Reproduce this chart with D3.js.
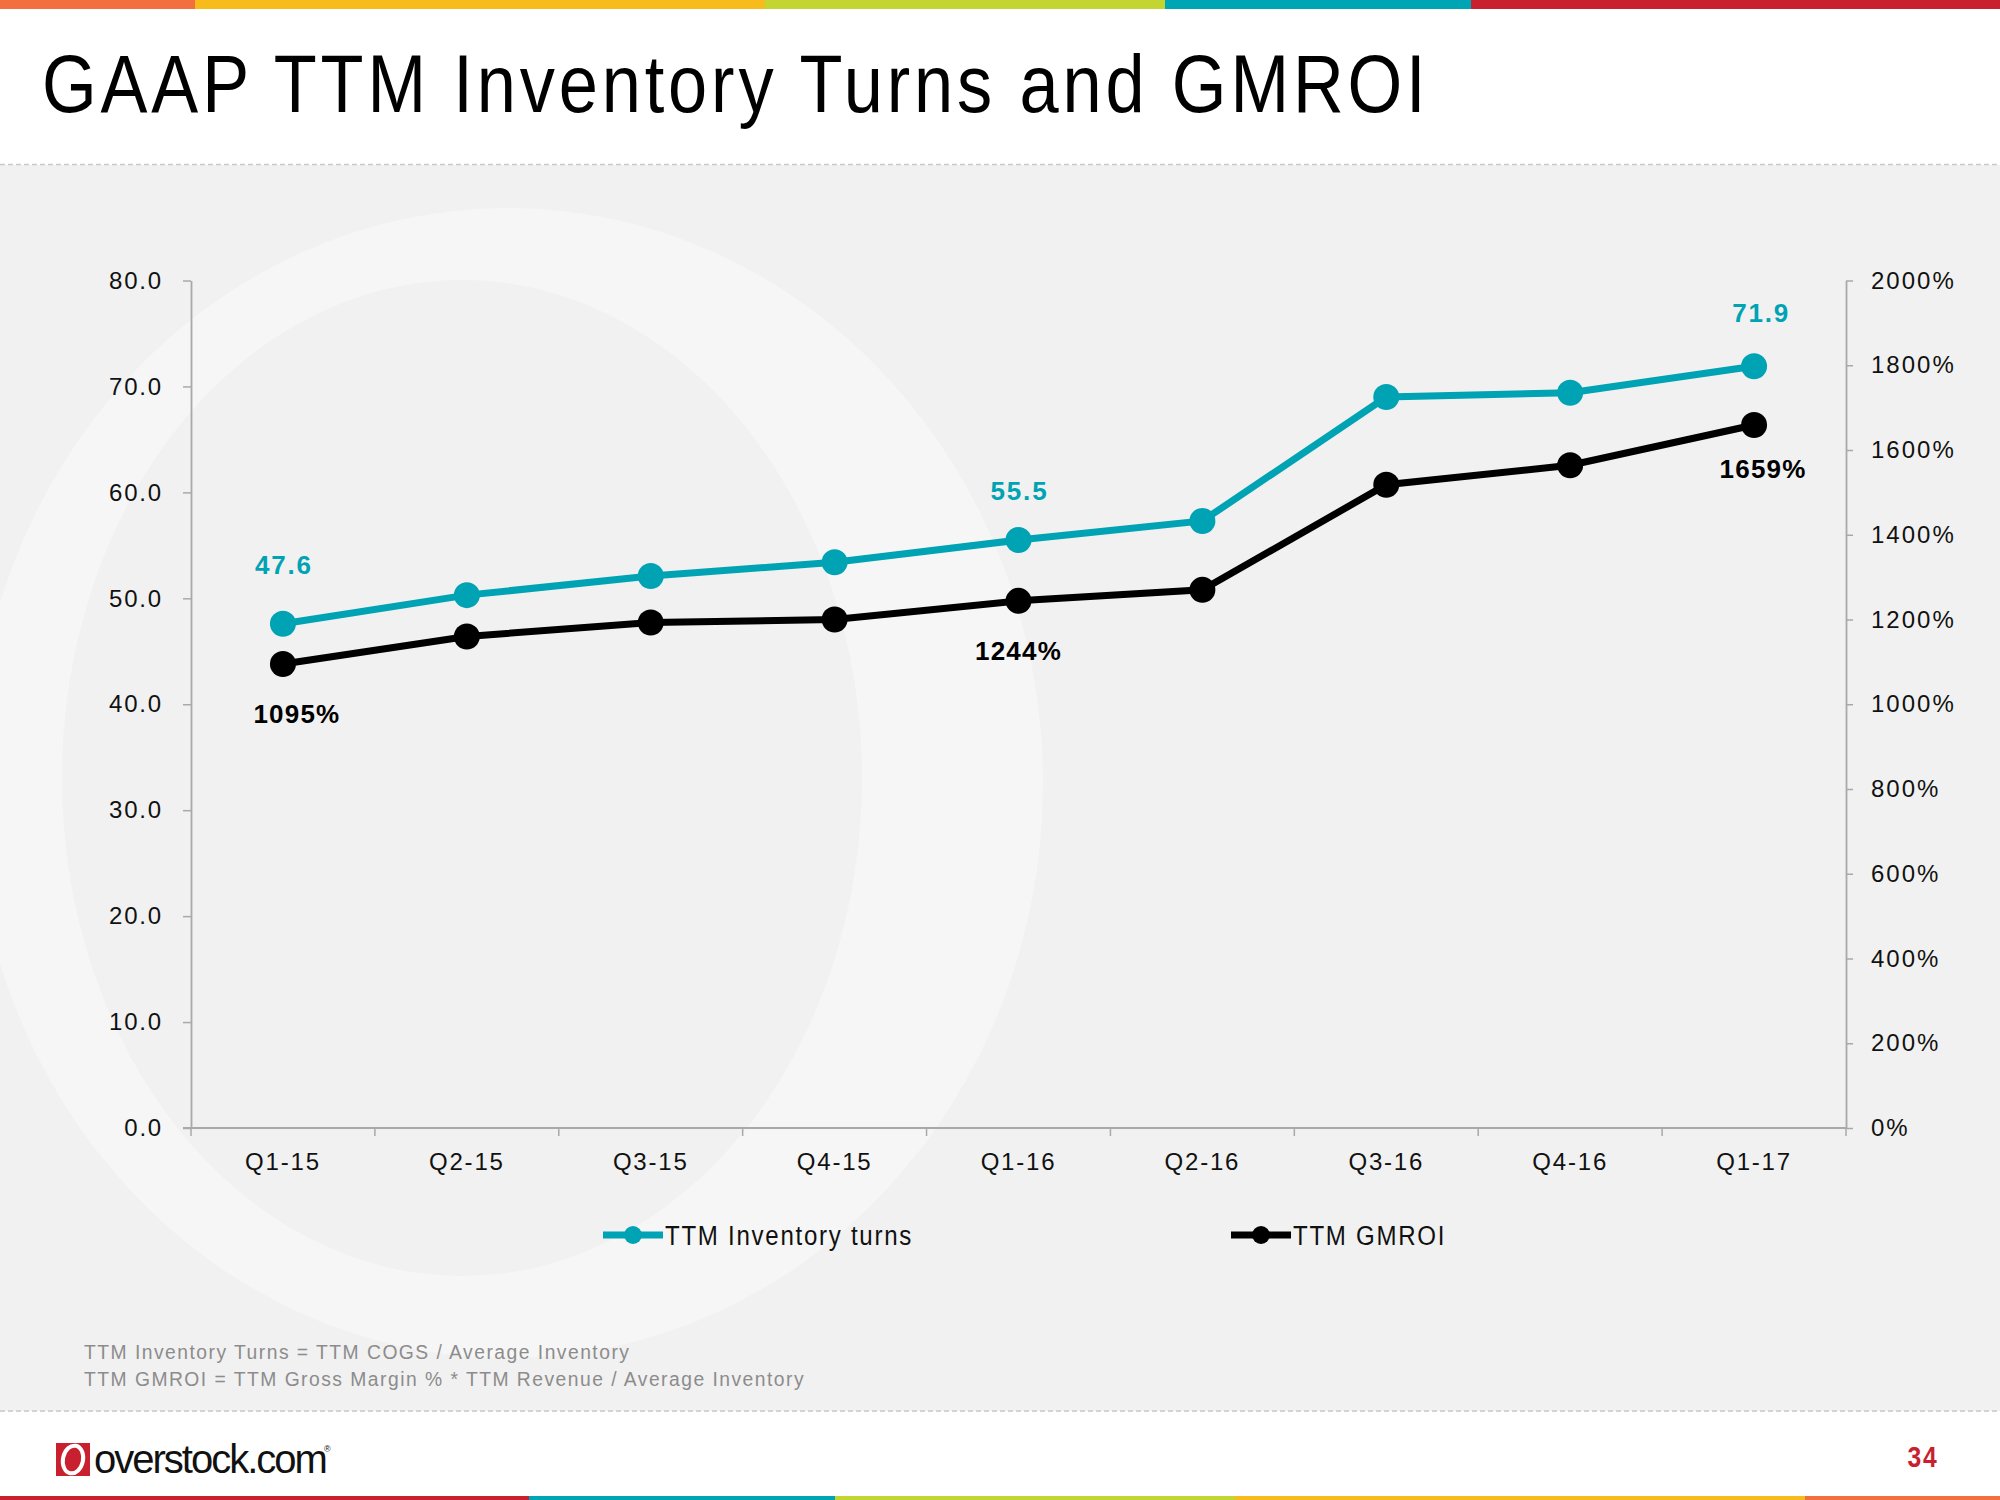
<!DOCTYPE html>
<html>
<head>
<meta charset="utf-8">
<script src="https://cdn.jsdelivr.net/npm/d3@7"></script>
<style>
  html, body { margin: 0; padding: 0; background: #ffffff; }
  svg { display: block; }
</style>
</head>
<body>
<svg id="chart" width="2000" height="1500"></svg>
<script>
// ---------- data ----------
const categories = ["Q1-15", "Q2-15", "Q3-15", "Q4-15", "Q1-16", "Q2-16", "Q3-16", "Q4-16", "Q1-17"];
const inventoryTurns = [47.6, 50.3, 52.1, 53.4, 55.5, 57.3, 69.0, 69.4, 71.9];
const gmroiPct = [1095, 1160, 1193, 1200, 1244, 1270, 1518, 1564, 1659];
const leftTicks = [0, 10, 20, 30, 40, 50, 60, 70, 80];
const rightTicks = [0, 200, 400, 600, 800, 1000, 1200, 1400, 1600, 1800, 2000];
const labeledIdx = [0, 4, 8];
const seriesNames = ["TTM Inventory turns", "TTM GMROI"];
const titleText = "GAAP TTM Inventory Turns and GMROI";
const footnotes = ["TTM Inventory Turns = TTM COGS / Average Inventory",
                   "TTM GMROI = TTM Gross Margin % * TTM Revenue / Average Inventory"];

// ---------- style ----------
const TEAL = "#00a3b4", BLACK = "#000000", AXIS = "#a9a9a9";
const SANS = "'Liberation Sans', Arial, sans-serif";

const svg = d3.select("#chart");

// condensed text helper (horizontal squeeze of a regular sans)
function narrowText(parent, x, y, s, txt) {
  return parent.append("text").attr("transform", `translate(${x},${y}) scale(${s},1)`)
    .attr("font-family", SANS).text(txt);
}

// top & bottom colour strips
const topStrip = [[0,195,"#f36f3e"],[195,765,"#f8bb1c"],[765,1165,"#c2d531"],[1165,1471,"#00a5b5"],[1471,2000,"#c8202f"]];
const botStrip = [[0,529,"#c8202f"],[529,835,"#00a5b5"],[835,1235,"#c2d531"],[1235,1805,"#f8bb1c"],[1805,2000,"#f36f3e"]];
svg.selectAll("rect.ts").data(topStrip).join("rect")
  .attr("x", d => d[0]).attr("y", 0).attr("width", d => d[1]-d[0]).attr("height", 9).attr("fill", d => d[2]);
svg.selectAll("rect.bs").data(botStrip).join("rect")
  .attr("x", d => d[0]).attr("y", 1496).attr("width", d => d[1]-d[0]).attr("height", 4).attr("fill", d => d[2]);

// content background
svg.append("rect").attr("x", 0).attr("y", 165).attr("width", 2000).attr("height", 1246).attr("fill", "#f1f1f1");
svg.append("defs").append("clipPath").attr("id", "cb")
  .append("rect").attr("x", 0).attr("y", 165).attr("width", 2000).attr("height", 1246);
// watermark "O" ring
const ring = svg.append("g").attr("clip-path", "url(#cb)");
ring.append("path")
  .attr("fill", "#f6f6f6").attr("fill-rule", "evenodd")
  .attr("d", (() => {
    const e = (cx, cy, rx, ry) => `M${cx-rx},${cy} a${rx},${ry} 0 1,0 ${2*rx},0 a${rx},${ry} 0 1,0 ${-2*rx},0 Z`;
    return e(508, 783, 535, 575) + e(462, 778, 400, 498);
  })());

// dashed separators
svg.append("line").attr("x1", 0).attr("x2", 2000).attr("y1", 164.5).attr("y2", 164.5)
  .attr("stroke", "#c8c8c8").attr("stroke-width", 1.5).attr("stroke-dasharray", "5,3");
svg.append("line").attr("x1", 0).attr("x2", 2000).attr("y1", 1411).attr("y2", 1411)
  .attr("stroke", "#c8c8c8").attr("stroke-width", 1.5).attr("stroke-dasharray", "5,3");

// title
narrowText(svg, 42, 112, 0.858, titleText)
  .attr("font-size", 82).attr("letter-spacing", 4.5).attr("fill", "#000");

// ---------- scales ----------
const X0 = 191, X1 = 1846, Y0 = 1128, Y1 = 280.5;
const x = d3.scaleBand().domain(categories).range([X0, X1]);
const yL = d3.scaleLinear().domain([0, 80]).range([Y0, Y1]);
const yR = d3.scaleLinear().domain([0, 2000]).range([Y0, Y1]);
const cx = c => x(c) + x.bandwidth() / 2;

// axes
const gL = svg.append("g").attr("transform", `translate(${X0},0)`)
  .call(d3.axisLeft(yL).tickValues(leftTicks).tickFormat(d3.format(".1f")).tickSize(8).tickSizeOuter(0).tickPadding(20));
const gR = svg.append("g").attr("transform", `translate(${X1},0)`)
  .call(d3.axisRight(yR).tickValues(rightTicks).tickFormat(d => d + "%").tickSize(7).tickSizeOuter(0).tickPadding(18));
const gB = svg.append("g").attr("transform", `translate(0,${Y0})`)
  .call(d3.axisBottom(x).tickSize(0).tickSizeOuter(0).tickPadding(25));
// category boundary ticks
gB.selectAll("line.bt").data(d3.range(categories.length + 1)).join("line")
  .attr("class", "bt").attr("x1", i => X0 + i * x.step()).attr("x2", i => X0 + i * x.step())
  .attr("y1", 0).attr("y2", 8).attr("stroke", AXIS).attr("stroke-width", 1.5);
gB.select(".domain").attr("d", `M${X0 - 8},0H${X1}`);

[gL, gR, gB].forEach(g => {
  g.select(".domain").attr("stroke", AXIS).attr("stroke-width", 1.8);
  g.selectAll(".tick line").attr("stroke", AXIS).attr("stroke-width", 1.5);
  g.selectAll(".tick text").attr("font-family", SANS).attr("font-size", 24)
    .attr("letter-spacing", 1.8).attr("fill", "#111");
});
gR.selectAll(".tick text").attr("letter-spacing", 2);

// ---------- lines ----------
const lineL = d3.line().x((d, i) => cx(categories[i])).y(d => yL(d));
const lineR = d3.line().x((d, i) => cx(categories[i])).y(d => yR(d));

svg.append("path").datum(inventoryTurns).attr("d", lineL)
  .attr("fill", "none").attr("stroke", TEAL).attr("stroke-width", 7);
svg.append("path").datum(gmroiPct).attr("d", lineR)
  .attr("fill", "none").attr("stroke", BLACK).attr("stroke-width", 7);

svg.selectAll("circle.t").data(inventoryTurns).join("circle")
  .attr("cx", (d, i) => cx(categories[i])).attr("cy", d => yL(d)).attr("r", 13).attr("fill", TEAL);
svg.selectAll("circle.g").data(gmroiPct).join("circle")
  .attr("cx", (d, i) => cx(categories[i])).attr("cy", d => yR(d)).attr("r", 13).attr("fill", BLACK);

// data labels
const tOff = [[1, -50], [1, -40], [7, -44]];
const gOff = [[14, 59], [0, 59], [9, 53]];
labeledIdx.forEach((idx, k) => {
  svg.append("text").attr("x", cx(categories[idx]) + tOff[k][0]).attr("y", yL(inventoryTurns[idx]) + tOff[k][1])
    .attr("text-anchor", "middle").attr("font-family", SANS).attr("font-weight", "bold")
    .attr("font-size", 26).attr("letter-spacing", 1.8).attr("fill", TEAL)
    .text(d3.format(".1f")(inventoryTurns[idx]));
  svg.append("text").attr("x", cx(categories[idx]) + gOff[k][0]).attr("y", yR(gmroiPct[idx]) + gOff[k][1])
    .attr("text-anchor", "middle").attr("font-family", SANS).attr("font-weight", "bold")
    .attr("font-size", 26).attr("letter-spacing", 1.2).attr("fill", BLACK)
    .text(gmroiPct[idx] + "%");
});

// legend
const legend = [{name: seriesNames[0], color: TEAL, x: 603}, {name: seriesNames[1], color: BLACK, x: 1231}];
legend.forEach(l => {
  const g = svg.append("g").attr("transform", `translate(${l.x},1235)`);
  g.append("line").attr("x1", 0).attr("x2", 60).attr("y1", 0).attr("y2", 0)
    .attr("stroke", l.color).attr("stroke-width", 7);
  g.append("circle").attr("cx", 30).attr("cy", 0).attr("r", 9).attr("fill", l.color);
  narrowText(g, 62, 10, 0.86, l.name).attr("font-size", 28)
    .attr("letter-spacing", 2).attr("fill", "#111");
});

// footnotes
footnotes.forEach((t, i) => {
  narrowText(svg, 84, 1359 + i * 27, 0.92, t)
    .attr("font-size", 21).attr("letter-spacing", 1.6).attr("fill", "#8c8c8c");
});

// logo
const logo = svg.append("g");
logo.append("rect").attr("x", 56).attr("y", 1443).attr("width", 34).attr("height", 33).attr("fill", "#c8202f");
logo.append("ellipse").attr("cx", 73).attr("cy", 1459.5).attr("rx", 10).attr("ry", 14)
  .attr("transform", "rotate(12,73,1459.5)").attr("fill", "none").attr("stroke", "#fff").attr("stroke-width", 4);
logo.append("text").attr("x", 94).attr("y", 1473).attr("font-family", SANS).attr("font-size", 40)
  .attr("letter-spacing", -2).attr("fill", "#111").text("overstock.com");
logo.append("text").attr("x", 324).attr("y", 1452).attr("font-family", SANS).attr("font-size", 9)
  .attr("fill", "#111").text("®");

// page number
narrowText(svg, 1923, 1467, 0.85, "34").attr("text-anchor", "middle")
  .attr("font-weight", "bold").attr("font-size", 29)
  .attr("letter-spacing", 2).attr("fill", "#c8202f");
</script>
</body>
</html>
